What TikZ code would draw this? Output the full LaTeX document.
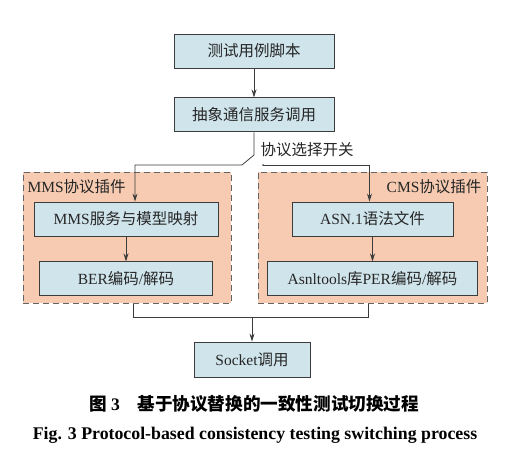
\documentclass[tikz,border=0pt]{standalone}
\usepackage{fontspec}
\setmainfont{Liberation Serif}
\newfontfamily\cjk{Noto Sans CJK SC}
\usepackage{tikz}
\usetikzlibrary{arrows.meta,positioning}
\definecolor{cbox}{RGB}{207,228,235}
\definecolor{cplug}{RGB}{246,203,177}
\definecolor{cline}{RGB}{60,60,60}
\definecolor{cdash}{RGB}{100,100,100}
\newcommand{\zh}[1]{{\cjk #1}}

\begin{document}
\begin{tikzpicture}[x=1pt,y=-1pt,font=\fontsize{15.5}{18}\selectfont,text=black!85,>={Stealth[length=8pt,width=5pt]},
box/.style={draw=cline,fill=cbox,minimum height=34pt,inner sep=0pt,line width=0.9pt},
plug/.style={draw=cdash,fill=cplug,dash pattern=on 6pt off 4pt,line width=1pt,minimum height=131pt,inner sep=0pt},
arr/.style={->,line width=0.8pt,draw=cline},
line/.style={line width=0.8pt,draw=cline}]
\useasboundingbox (0,0) rectangle (516,467);
% plugin containers
\node[plug,minimum width=208pt] (mms) at (127,237.5) {};
\node[plug,minimum width=229pt] (cms) at (372.5,237.5) {};
\node[anchor=west] (mmslbl) at (24,187) {MMS\zh{协议插件}};
\node[anchor=east] (cmslbl) at (485,187) {CMS\zh{协议插件}};
% main chain
\node[box,minimum width=160pt] (script) at (254,51) {\zh{测试用例脚本}};
\node[box,minimum width=160pt,below=29pt of script] (abs) {\zh{抽象通信服务调用}};
\node[box,minimum width=184pt] (mmsmap) at (126,219) {MMS\zh{服务与模型映射}};
\node[box,minimum width=173pt,below=25pt of mmsmap] (ber) {BER\zh{编码}/\zh{解码}};
\node[box,minimum width=161pt] (asn) at (372.5,219) {ASN.1\zh{语法文件}};
\node[box,minimum width=210pt,below=25pt of asn] (per) {Asnltools\zh{库}PER\zh{编码}/\zh{解码}};
\node[box,minimum width=116pt,minimum height=35pt] (sock) at (252,359.5) {Socket\zh{调用}};
% switch
\coordinate (swt) at (254,155);
\coordinate (swl) at (242,165);
\coordinate (swr) at (263,165);
\coordinate (jn) at (252,317);
\node[anchor=west] (swlbl) at (257,150) {\zh{协议选择开关}};
\draw[arr] (script) -- (abs);
\draw[arr] (abs.south) -- (swt) -- (swl) -| ([xshift=9pt]mmsmap.north);
\draw[arr] (swr) -| ([xshift=-3pt]asn.north);
\fill[cline] (swr) circle (0.9pt);
\draw[arr] (mmsmap) -- (ber);
\draw[arr] (asn) -- (per);
\draw[line] ([xshift=6pt]mms.south) |- (jn) -| ([xshift=-4pt]cms.south);
\draw[arr] (jn) -- (sock);
% caption
\node[font=\fontsize{17.6}{20}\selectfont\bfseries,text=black] (cap) at (254,404) {\zh{图}\ 3\quad\zh{基于协议替换的一致性测试切换过程}};
\node[font=\fontsize{17.8}{20}\selectfont\bfseries,text=black] (capen) at (255,435) {Fig. 3 Protocol-based consistency testing switching process};
\end{tikzpicture}
\end{document}
